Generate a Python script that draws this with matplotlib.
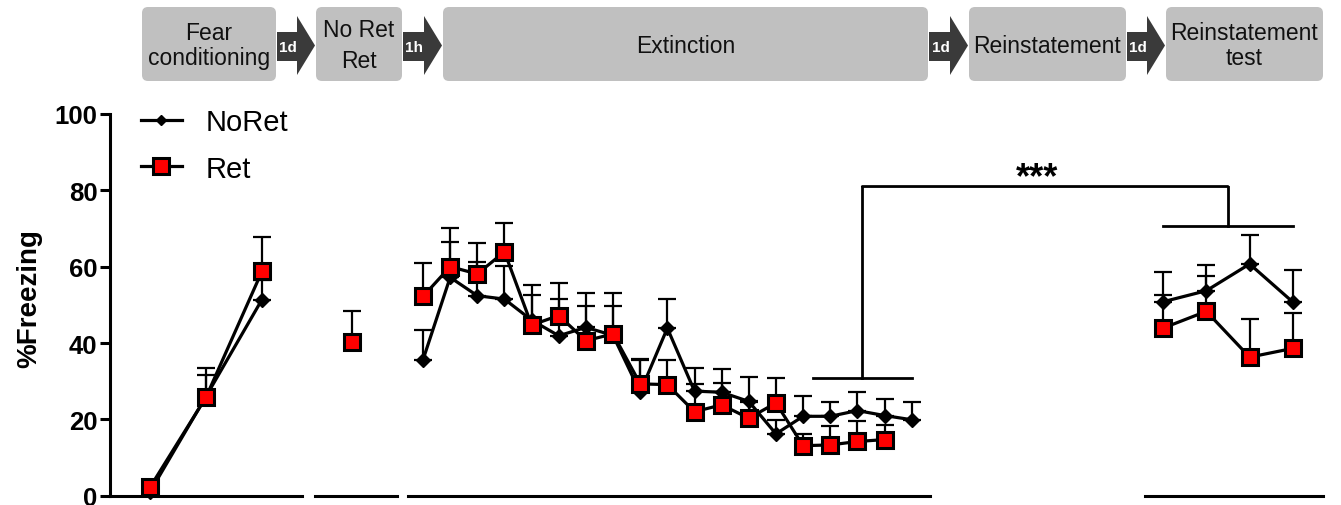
import matplotlib
matplotlib.use('Agg')
import matplotlib.pyplot as plt
import numpy as np
from matplotlib.patches import FancyBboxPatch, Polygon, ConnectionPatch
from matplotlib.lines import Line2D

plt.rcParams['font.family'] = ['Liberation Sans', 'DejaVu Sans']

# ---- data (% freezing, mean and SEM) ----
stage_labels = ['Fear\nconditioning', 'No Ret\nRet', 'Extinction',
                'Reinstatement', 'Reinstatement\ntest']
gap_labels = ['1d', '1h', '1d', '1d']

fc_noret = [1.0, 26.0, 51.4]
fc_noret_sem = [0.0, 5.7, 5.0]
fc_ret = [2.2, 25.8, 58.8]
fc_ret_sem = [0.0, 7.6, 8.9]

retr_ret = [40.2]
retr_ret_sem = [8.3]

ext_noret = [35.6, 57.2, 52.4, 51.5, 46.0, 41.9, 44.1, 42.0, 27.1, 43.9,
             27.4, 27.1, 24.7, 16.2, 20.8, 20.8, 22.3, 21.0, 19.9]
ext_noret_sem = [7.8, 9.2, 8.7, 8.8, 6.7, 9.6, 9.0, 7.8, 8.4, 7.6,
                 6.0, 6.2, 6.5, 3.7, 5.4, 3.7, 4.8, 4.3, 4.7]
ext_ret = [52.2, 60.0, 58.1, 63.9, 44.7, 47.2, 40.6, 42.4, 29.3, 29.1,
           22.0, 23.8, 20.3, 24.3, 13.1, 13.3, 14.2, 14.7]
ext_ret_sem = [8.8, 10.1, 8.0, 7.5, 10.5, 8.4, 9.2, 10.6, 6.5, 6.5,
               7.3, 5.7, 4.2, 6.5, 3.1, 5.0, 5.4, 3.8]

test_noret = [50.8, 53.7, 60.7, 50.7]
test_noret_sem = [7.7, 6.7, 7.6, 8.4]
test_ret = [43.9, 48.3, 36.3, 38.6]
test_ret_sem = [8.8, 9.3, 10.0, 9.3]

W, H = 1341, 506
fig = plt.figure(figsize=(W / 100, H / 100), dpi=100)

# ---- protocol banner (pixel coords) ----
ban = fig.add_axes([0, 0, 1, 1])
ban.set_xlim(0, W)
ban.set_ylim(H, 0)
ban.axis('off')
boxes = [(142, 276), (316, 402), (443, 928), (969, 1126), (1166, 1323)]
btop, bbot, rad = 8, 82, 6
for (x0, x1), lab in zip(boxes, stage_labels):
    ban.add_patch(FancyBboxPatch((x0 + rad, btop + rad), x1 - x0 - 2 * rad,
                                 bbot - btop - 2 * rad,
                                 boxstyle='round,pad=%d' % rad,
                                 fc='#c0c0c0', ec='none'))
    ls = 1.45 if lab.startswith('No Ret') else 1.1
    ban.text((x0 + x1) / 2, (btop + bbot) / 2 + 1, lab, ha='center', va='center',
             fontsize=16.5, linespacing=ls, color='#111111')
for i, g in enumerate(gap_labels):
    xs = boxes[i][1] + 1
    xe = boxes[i + 1][0] - 1
    xh = xe - 18
    ban.add_patch(Polygon([(xs, 33), (xh, 33), (xh, 17), (xe, 46.5),
                           (xh, 76), (xh, 62), (xs, 62)],
                          closed=True, fc='#3a3a3a', ec='none'))
    ban.text((xs + xh) / 2 + 1, 48, g, ha='center', va='center', color='white',
             fontsize=11, fontweight='bold',
             family=['Liberation Sans Narrow', 'Liberation Sans'])

# ---- data axes: broken x axis, one axes per session ----
bottom = (H - 496.7) / H
height = (496.7 - 115) / H
sections = [  # (left px, right px, xlim)
    (110, 302, (0.286, 3.714)),
    (315, 397, (0.549, 1.549)),
    (408, 930, (0.4475, 19.674)),
    (1145, 1323, (0.585, 4.693)),
]
axes = []
for k, (p0, p1, xl) in enumerate(sections):
    ax = fig.add_axes([p0 / W, bottom, (p1 - p0) / W, height])
    ax.set_xlim(*xl)
    ax.set_ylim(0, 100)
    ax.patch.set_alpha(0)
    for s in ['top', 'right']:
        ax.spines[s].set_visible(False)
    ax.spines['bottom'].set_linewidth(2.2)
    ax.set_xticks([])
    if k == 0:
        ax.spines['left'].set_linewidth(2.2)
        ax.set_yticks([0, 20, 40, 60, 80, 100])
        ax.tick_params(axis='y', width=2.2, length=7, pad=2, labelsize=18.5)
        for t in ax.get_yticklabels():
            t.set_fontweight('bold')
        ax.set_ylabel('%Freezing', fontsize=20, fontweight='bold')
        ax.yaxis.set_label_coords(-0.355, 0.52)
    else:
        ax.spines['left'].set_visible(False)
        ax.set_yticks([])
    axes.append(ax)


def draw(ax, y, err, marker, face, ms, mew, zm):
    x = np.arange(1, len(y) + 1)
    ax.errorbar(x, y, yerr=[np.zeros(len(err)), err], fmt='none', ecolor='black',
                elinewidth=1.6, capsize=6.8, capthick=1.6, zorder=2)
    ax.plot(x, y, '-', color='black', lw=2.3, zorder=3, clip_on=False)
    ax.plot(x, y, ls='none', marker=marker, ms=ms, mfc=face, mec='black',
            mew=mew, zorder=zm, clip_on=False)


groups = [
    (axes[0], fc_noret, fc_noret_sem, fc_ret, fc_ret_sem),
    (axes[2], ext_noret, ext_noret_sem, ext_ret, ext_ret_sem),
    (axes[3], test_noret, test_noret_sem, test_ret, test_ret_sem),
]
for ax, n, ne, r, re in groups:
    draw(ax, n, ne, 'D', 'black', 7, 1, 4)
    draw(ax, r, re, 's', '#ff0000', 11, 2.2, 5)
draw(axes[1], retr_ret, retr_ret_sem, 's', '#ff0000', 11, 2.2, 5)

# ---- significance bracket ----
ax3, ax4 = axes[2], axes[3]
blw = 2
ax3.plot([15.36, 19.0], [30.8, 30.8], color='black', lw=blw, clip_on=False)
ax3.plot([17.18, 17.18], [30.8, 81], color='black', lw=blw, clip_on=False)
ax4.plot([1, 4], [70.6, 70.6], color='black', lw=blw, clip_on=False)
ax4.plot([2.5, 2.5], [70.6, 81], color='black', lw=blw, clip_on=False)
con = ConnectionPatch(xyA=(17.18, 81), coordsA=ax3.transData,
                      xyB=(2.5, 81), coordsB=ax4.transData,
                      color='black', lw=blw)
fig.add_artist(con)
ax4.text(-1.9, 83.2, '***', ha='center', va='center', fontsize=26,
         fontweight='bold', clip_on=False)

# ---- legend ----
handles = [
    Line2D([], [], color='black', lw=2.3, marker='D', ms=5.5, mfc='black', mec='black'),
    Line2D([], [], color='black', lw=2.3, marker='s', ms=11, mfc='#ff0000',
           mec='black', mew=2.2),
]
axes[0].legend(handles, ['NoRet', 'Ret'], loc='upper left',
               bbox_to_anchor=(141 / W, 1 - 109 / H), bbox_transform=fig.transFigure,
               frameon=False, fontsize=21, borderpad=0, borderaxespad=0,
               handlelength=1.4, handletextpad=0.8, labelspacing=0.64)

fig.savefig('out.png', dpi=100)
